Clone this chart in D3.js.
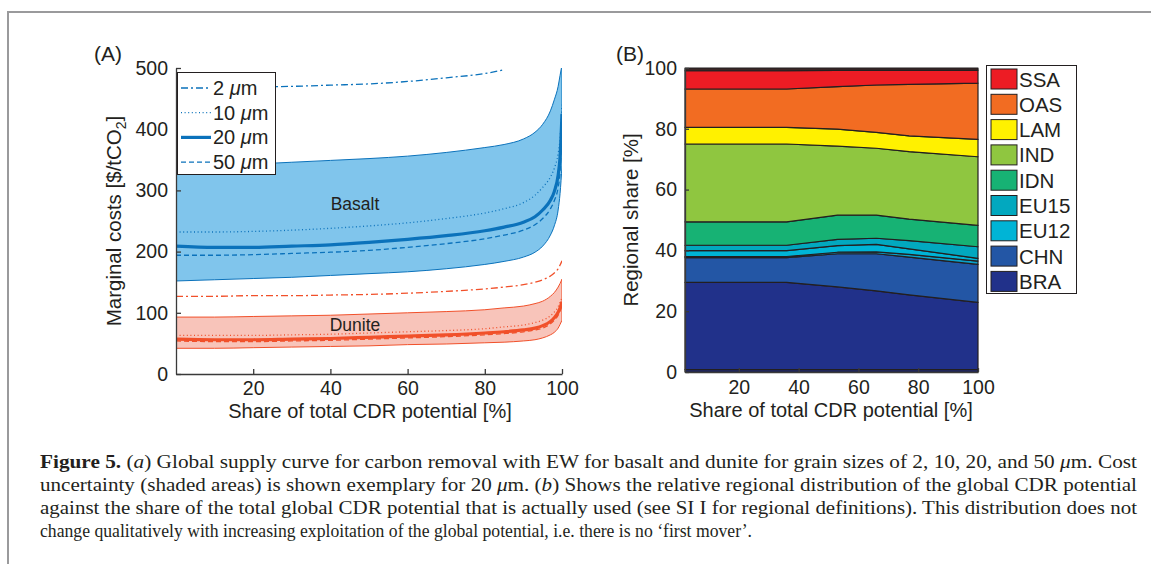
<!DOCTYPE html>
<html>
<head>
<meta charset="utf-8">
<script src="https://cdnjs.cloudflare.com/ajax/libs/d3/7.8.5/d3.min.js"></script>
<style>
  body { margin: 0; background: #fff; }
  svg { display: block; }
  .ax text { font-family: "Liberation Sans", Arial, sans-serif; }
</style>
</head>
<body>
<svg id="fig" width="1151" height="564"></svg>
<script>
// ---- panel A data: marginal costs [$/tCO2] vs share of CDR potential [%]
var shareX = [0, 10, 20, 30, 40, 50, 60, 70, 80, 85, 90, 93, 95, 97, 98, 99, 99.5, 100];

var basalt2 = [467, 468, 469, 470, 472, 474, 478, 484, 491, 497];           // clipped at 500
var basalt10 = [232, 232, 233, 235, 238, 242, 247, 254, 263, 270, 280, 292, 305, 322, 336, 360, 385, 440];
var basalt20 = [209, 207, 207, 209, 211, 215, 220, 226, 234, 240, 248, 257, 268, 284, 298, 325, 355, 425];
var basalt50 = [194, 194, 195, 197, 199, 202, 207, 213, 221, 227, 235, 244, 254, 270, 283, 305, 330, 400];
var basaltHigh = [339, 341, 343, 346, 349, 352, 356, 362, 370, 375, 384, 395, 408, 430, 448, 470, 488, 505];
var basaltLow = [152, 154, 156, 158, 161, 164, 167, 172, 179, 184, 191, 199, 209, 227, 242, 268, 295, 340];

var dunite2 = [127, 127, 128, 128, 129, 130, 132, 135, 139, 142, 146, 150, 154, 160, 165, 172, 178, 185];
var dunite10 = [63, 63, 63, 64, 65, 67, 69, 71, 74, 77, 80, 84, 88, 95, 101, 110, 117, 125];
var dunite20 = [57, 56, 56, 57, 58, 60, 62, 64, 67, 69, 72, 75, 79, 86, 92, 101, 108, 118];
var dunite50 = [54, 53, 53, 54, 55, 57, 59, 61, 64, 66, 69, 72, 75, 82, 88, 96, 103, 112];
var duniteHigh = [93, 93, 94, 95, 96, 98, 100, 102, 105, 108, 111, 115, 119, 127, 133, 142, 148, 155];
var duniteLow = [42, 42, 43, 44, 45, 46, 48, 49, 51, 52, 54, 56, 59, 64, 68, 75, 81, 88];

var grainLabels = ["2 \u03bcm", "10 \u03bcm", "20 \u03bcm", "50 \u03bcm"];

// ---- panel B data: regional share [%], stacked bottom to top
var usedX = [2, 36, 53, 66, 77, 100];
var regions = ["other1", "BRA", "CHN", "other2", "EU12", "EU15", "IDN", "IND", "LAM", "OAS", "SSA", "other3"];
var regionColors = ["#202f86", "#21318a", "#2356a5", "#0aa0c8", "#00b4d6", "#02a8bf", "#17b274", "#8fc640", "#fff100", "#f26c22", "#ed1c24", "#3b2626"];
var legendRegions = ["SSA", "OAS", "LAM", "IND", "IDN", "EU15", "EU12", "CHN", "BRA"];
var shares = {
  other1: [0.8, 0.8, 0.8, 0.8, 0.8, 0.8],
  BRA:    [28.7, 28.7, 27.2, 25.9, 24.6, 22.1],
  CHN:    [8.1, 8.1, 10.9, 12.2, 12.4, 12.5],
  other2: [0.4, 0.4, 0.5, 0.6, 0.9, 1.1],
  EU12:   [1.9, 1.9, 2.2, 2.5, 1.8, 0.9],
  EU15:   [1.8, 1.8, 2.0, 2.0, 2.7, 3.8],
  IDN:    [7.7, 7.7, 8.0, 7.6, 7.1, 7.0],
  IND:    [25.6, 25.6, 22.7, 22.0, 22.2, 22.6],
  LAM:    [5.5, 5.5, 5.6, 5.2, 5.2, 5.7],
  OAS:    [12.6, 12.6, 14.0, 15.6, 16.9, 18.5],
  SSA:    [6.0, 6.0, 5.3, 4.8, 4.6, 4.3],
  other3: [0.9, 0.9, 0.8, 0.8, 0.8, 0.7]
};

var blue = "#0b72bb", blueFill = "#80c5ec";
var red = "#f1502a", redFill = "#f8c4ba";
var fontSans = '"Liberation Sans", Arial, sans-serif';
var ink = "#231f20";

var svg = d3.select("#fig");

// figure frame
svg.append("path")
  .attr("d", "M8,564 L8,12 L1151,12")
  .attr("fill", "none").attr("stroke", "#9a9a9c").attr("stroke-width", 2);

/* ---------------- Panel A ---------------- */
var xA = d3.scaleLinear().domain([0, 100]).range([176, 562]);
var yA = d3.scaleLinear().domain([0, 500]).range([374, 68]);

var gA = svg.append("g");
svg.append("clipPath").attr("id", "clipA")
  .append("rect").attr("x", 176).attr("y", 68).attr("width", 386).attr("height", 306);
var plotA = gA.append("g").attr("clip-path", "url(#clipA)");

function pts(vals) {
  return vals.map(function (v, i) { return [shareX[i], v]; });
}
var line = d3.line()
  .x(function (d) { return xA(d[0]); })
  .y(function (d) { return yA(d[1]); })
  .curve(d3.curveMonotoneX);
var area = d3.area()
  .x(function (d) { return xA(d[0]); })
  .y0(function (d) { return yA(d[1]); })
  .y1(function (d) { return yA(d[2]); })
  .curve(d3.curveMonotoneX);

var styles = [
  { dash: "7,3,2,3", w: 1.3 },
  { dash: "1,2.6", w: 1.3 },
  { dash: null, w: 3.2 },
  { dash: "5,3", w: 1.3 }
];

function drawRock(low, high, series, col, fill) {
  var band = low.map(function (v, i) { return [shareX[i], v, high[i]]; });
  plotA.append("path").attr("d", area(band))
    .attr("fill", fill).attr("stroke", "none");
  plotA.append("path").attr("d", line(pts(low)))
    .attr("fill", "none").attr("stroke", col).attr("stroke-width", 1);
  plotA.append("path").attr("d", line(pts(high)))
    .attr("fill", "none").attr("stroke", col).attr("stroke-width", 1);
  plotA.append("line")
    .attr("x1", xA(100)).attr("x2", xA(100))
    .attr("y1", yA(low[low.length - 1])).attr("y2", yA(Math.min(500, high[high.length - 1])))
    .attr("stroke", col).attr("stroke-width", 1);
  series.forEach(function (s, k) {
    plotA.append("path").attr("d", line(pts(s)))
      .attr("fill", "none").attr("stroke", col)
      .attr("stroke-width", styles[k].w)
      .attr("stroke-dasharray", styles[k].dash);
  });
}
drawRock(basaltLow, basaltHigh, [basalt2, basalt10, basalt20, basalt50], blue, blueFill);
drawRock(duniteLow, duniteHigh, [dunite2, dunite10, dunite20, dunite50], red, redFill);

gA.append("text").attr("x", 355).attr("y", 210).attr("text-anchor", "middle")
  .style("font-family", fontSans).style("font-size", "17.5px").attr("fill", ink).text("Basalt");
gA.append("text").attr("x", 355).attr("y", 331).attr("text-anchor", "middle")
  .style("font-family", fontSans).style("font-size", "17.5px").attr("fill", ink).text("Dunite");

// axes A
var axAx = gA.append("g").attr("class", "ax").attr("transform", "translate(0,374)")
  .call(d3.axisBottom(xA).tickValues([20, 40, 60, 80, 100]).tickSizeInner(-5).tickSizeOuter(0).tickPadding(7));
var axAy = gA.append("g").attr("class", "ax").attr("transform", "translate(176,0)")
  .call(d3.axisLeft(yA).tickValues([0, 100, 200, 300, 400, 500]).tickSizeInner(-5).tickSizeOuter(0).tickPadding(8));
[axAx, axAy].forEach(function (a) {
  a.selectAll("path, line").attr("stroke", "#3a3a3a").attr("stroke-width", 1.3);
  a.selectAll("text").style("font-size", "19.5px").attr("fill", ink);
});

gA.append("text").attr("x", 370).attr("y", 418).attr("text-anchor", "middle")
  .style("font-family", fontSans).style("font-size", "20px").attr("fill", ink)
  .text("Share of total CDR potential [%]");
var yl = gA.append("text").attr("transform", "translate(121,221) rotate(-90)").attr("text-anchor", "middle")
  .style("font-family", fontSans).style("font-size", "20.5px").attr("fill", ink);
yl.append("tspan").text("Marginal costs [$/tCO");
yl.append("tspan").attr("dy", 5).style("font-size", "14px").text("2");
yl.append("tspan").attr("dy", -5).text("]");
gA.append("text").attr("x", 94).attr("y", 61)
  .style("font-family", fontSans).style("font-size", "21px").attr("fill", ink).text("(A)");

// legend A
var legA = gA.append("g");
legA.append("rect").attr("x", 177.5).attr("y", 72.5).attr("width", 98).attr("height", 102)
  .attr("fill", "#fff").attr("stroke", ink).attr("stroke-width", 1);
grainLabels.forEach(function (t, k) {
  var cy = 88 + k * 24.7;
  legA.append("line").attr("x1", 181).attr("x2", 211).attr("y1", cy).attr("y2", cy)
    .attr("stroke", blue).attr("stroke-width", styles[k].w).attr("stroke-dasharray", styles[k].dash);
  var tx = legA.append("text").attr("x", 213).attr("y", cy + 7)
    .style("font-family", fontSans).style("font-size", "20px").attr("fill", ink);
  var parts = t.split(" ");
  tx.append("tspan").text(parts[0] + " ");
  tx.append("tspan").style("font-style", "italic").text(parts[1].charAt(0));
  tx.append("tspan").text(parts[1].slice(1));
});

/* ---------------- Panel B ---------------- */
var xB = d3.scaleLinear().domain([2, 100]).range([685, 978]);
var yB = d3.scaleLinear().domain([0, 100]).range([372, 68]);
var gB = svg.append("g");

var rows = usedX.map(function (x, i) {
  var r = { x: x };
  regions.forEach(function (k) { r[k] = shares[k][i]; });
  return r;
});
var stack = d3.stack().keys(regions)(rows);
var areaB = d3.area()
  .x(function (d) { return xB(d.data.x); })
  .y0(function (d) { return yB(d[0]); })
  .y1(function (d) { return yB(d[1]); });

gB.selectAll("path.layer").data(stack).enter().append("path")
  .attr("class", "layer")
  .attr("d", areaB)
  .attr("fill", function (d, i) { return regionColors[i]; })
  .attr("stroke", ink).attr("stroke-width", 1.2).attr("stroke-linejoin", "round");

var axBx = gB.append("g").attr("class", "ax").attr("transform", "translate(0,372)")
  .call(d3.axisBottom(xB).tickValues([20, 40, 60, 80, 100]).tickSizeInner(-4).tickSizeOuter(0).tickPadding(8));
var axBy = gB.append("g").attr("class", "ax").attr("transform", "translate(685,0)")
  .call(d3.axisLeft(yB).tickValues([0, 20, 40, 60, 80, 100]).tickSizeInner(-4).tickSizeOuter(0).tickPadding(8));
[axBx, axBy].forEach(function (a) {
  a.selectAll("path, line").attr("stroke", "#3a3a3a").attr("stroke-width", 1.3);
  a.selectAll("text").style("font-size", "19.5px").attr("fill", ink);
});

gB.append("text").attr("x", 831).attr("y", 417).attr("text-anchor", "middle")
  .style("font-family", fontSans).style("font-size", "20px").attr("fill", ink)
  .text("Share of total CDR potential [%]");
gB.append("text").attr("transform", "translate(638,220) rotate(-90)").attr("text-anchor", "middle")
  .style("font-family", fontSans).style("font-size", "20.5px").attr("fill", ink)
  .text("Regional share [%]");
gB.append("text").attr("x", 616).attr("y", 61)
  .style("font-family", fontSans).style("font-size", "21px").attr("fill", ink).text("(B)");

// legend B
var legB = gB.append("g");
legB.append("rect").attr("x", 986.5).attr("y", 65.5).attr("width", 90).attr("height", 228)
  .attr("fill", "#fff").attr("stroke", ink).attr("stroke-width", 1);
legendRegions.forEach(function (name, k) {
  var cy = 79 + k * 25.3;
  legB.append("rect").attr("x", 991).attr("y", cy - 10).attr("width", 26).attr("height", 20)
    .attr("fill", regionColors[regions.indexOf(name)]).attr("stroke", ink).attr("stroke-width", 1);
  legB.append("text").attr("x", 1019).attr("y", cy + 7.5)
    .style("font-family", fontSans).style("font-size", "20.5px").attr("fill", ink).text(name);
});

/* ---------------- Caption ---------------- */
var capFont = '"Liberation Serif", "DejaVu Serif", serif';
var cap = svg.append("g").style("font-family", capFont).style("font-size", "18.5px").attr("fill", ink);
var capLines = [
  { y: 468, len: 1097, parts: [["b", "Figure 5."], ["", " ("], ["i", "a"], ["", ") Global supply curve for carbon removal with EW for basalt and dunite for grain sizes of 2, 10, 20, and 50 "], ["i", "\u03bc"], ["", "m. Cost"]] },
  { y: 491, len: 1097, parts: [["", "uncertainty (shaded areas) is shown exemplary for 20 "], ["i", "\u03bc"], ["", "m. ("], ["i", "b"], ["", ") Shows the relative regional distribution of the global CDR potential"]] },
  { y: 514, len: 1097, parts: [["", "against the share of the total global CDR potential that is actually used (see SI I for regional definitions). This distribution does not"]] },
  { y: 537, len: 712, parts: [["", "change qualitatively with increasing exploitation of the global potential, i.e. there is no \u2018first mover\u2019."]] }
];
capLines.forEach(function (l) {
  var t = cap.append("text").attr("x", 40).attr("y", l.y)
    .attr("textLength", l.len).attr("lengthAdjust", "spacingAndGlyphs");
  l.parts.forEach(function (p) {
    var s = t.append("tspan").text(p[1]);
    if (p[0] === "b") s.style("font-weight", "bold");
    if (p[0] === "i") s.style("font-style", "italic");
  });
});
</script>
</body>
</html>
